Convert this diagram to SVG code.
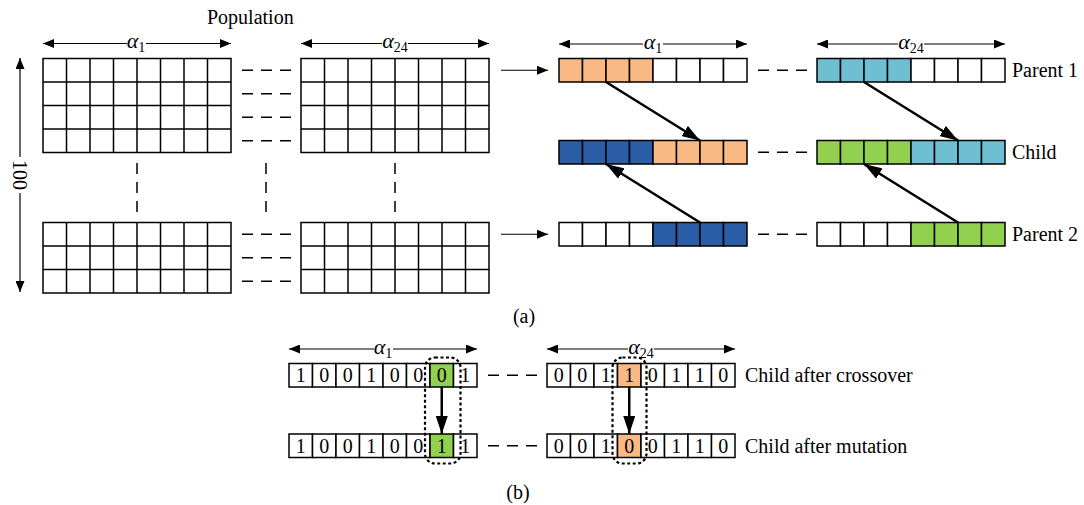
<svg xmlns="http://www.w3.org/2000/svg" width="1084" height="505" viewBox="0 0 1084 505" font-family="'Liberation Serif', 'DejaVu Serif', serif">
<defs>
<marker id="a" markerUnits="userSpaceOnUse" markerWidth="11" markerHeight="9" refX="11" refY="4.5" orient="auto"><path d="M0,0 L11,4.5 L0,9 z" fill="#000"/></marker>
<marker id="b" markerUnits="userSpaceOnUse" markerWidth="18" markerHeight="12" refX="18" refY="6" orient="auto"><path d="M0,0 L18,6 L0,12 z" fill="#000"/></marker>
<rect id="c" width="23.5" height="23.5"/>
</defs>
<style>
text{font-family:'Liberation Serif','DejaVu Serif',serif;fill:#000}
.t{font-size:20px}
.d{font-size:20px;text-anchor:middle}
.al{font-size:22px;font-style:italic;text-anchor:middle}
.sub{font-size:14px;font-style:normal}
.g{fill:#fff;stroke:#000;stroke-width:1.5}
.gl{fill:none;stroke:#000;stroke-width:1.5}
use{stroke:#000;stroke-width:1.5}
.w{fill:#fff}
.o{fill:#F8B984}
.bl{fill:#2B5DA6}
.lb{fill:#6EBFD2}
.gr{fill:#92D050}
.dash{stroke:#000;stroke-width:1.5;stroke-dasharray:11 8;fill:none}
.thin{stroke:#000;stroke-width:1.2;fill:none;marker-end:url(#a)}
.bold{stroke:#000;stroke-width:2.5;fill:none;marker-end:url(#b)}
.dot{fill:none;stroke:#000;stroke-width:2.2;stroke-dasharray:3 2.5}
</style>
<rect width="1084" height="505" fill="#fff"/>

<!-- Population -->
<text class="t" x="207" y="24">Population</text>
<g id="axis-100">
<line class="thin" x1="20" y1="157" x2="20" y2="58"/>
<line class="thin" x1="20" y1="193" x2="20" y2="292"/>
<text class="t" text-anchor="middle" transform="translate(13,175) rotate(90)">100</text>
</g>
<g id="pop-a1-top">
<rect class="g" x="43" y="58.5" width="188" height="94"/>
<path class="gl" d="M66.5,58.5V152.5M90,58.5V152.5M113.5,58.5V152.5M137,58.5V152.5M160.5,58.5V152.5M184,58.5V152.5M207.5,58.5V152.5M43,82H231M43,105.5H231M43,129H231"/>
</g>
<g id="pop-a24-top">
<rect class="g" x="301" y="58.5" width="188" height="94"/>
<path class="gl" d="M324.5,58.5V152.5M348,58.5V152.5M371.5,58.5V152.5M395,58.5V152.5M418.5,58.5V152.5M442,58.5V152.5M465.5,58.5V152.5M301,82H489M301,105.5H489M301,129H489"/>
</g>
<g id="pop-a1-bot">
<rect class="g" x="43" y="222.5" width="188" height="70.5"/>
<path class="gl" d="M66.5,222.5V293M90,222.5V293M113.5,222.5V293M137,222.5V293M160.5,222.5V293M184,222.5V293M207.5,222.5V293M43,246H231M43,269.5H231"/>
</g>
<g id="pop-a24-bot">
<rect class="g" x="301" y="222.5" width="188" height="70.5"/>
<path class="gl" d="M324.5,222.5V293M348,222.5V293M371.5,222.5V293M395,222.5V293M418.5,222.5V293M442,222.5V293M465.5,222.5V293M301,246H489M301,269.5H489"/>
</g>

<!-- alpha labels -->
<g id="alpha-labels">
<line class="thin" x1="127" y1="43.5" x2="43" y2="43.5"/><line class="thin" x1="146" y1="43.5" x2="231" y2="43.5"/>
<text class="al" x="136" y="48">α<tspan class="sub" dy="4">1</tspan></text>
<line class="thin" x1="382" y1="43.5" x2="301" y2="43.5"/><line class="thin" x1="408" y1="43.5" x2="489" y2="43.5"/>
<text class="al" x="395" y="48">α<tspan class="sub" dy="4">24</tspan></text>
<line class="thin" x1="643" y1="44" x2="559" y2="44"/><line class="thin" x1="663" y1="44" x2="747" y2="44"/>
<text class="al" x="653" y="48.5">α<tspan class="sub" dy="4">1</tspan></text>
<line class="thin" x1="898" y1="44" x2="817" y2="44"/><line class="thin" x1="924" y1="44" x2="1005" y2="44"/>
<text class="al" x="911" y="48.5">α<tspan class="sub" dy="4">24</tspan></text>
<line class="thin" x1="374" y1="349" x2="289" y2="349"/><line class="thin" x1="393" y1="349" x2="477" y2="349"/>
<text class="al" x="383" y="354">α<tspan class="sub" dy="4">1</tspan></text>
<line class="thin" x1="628" y1="349" x2="547" y2="349"/><line class="thin" x1="654" y1="349" x2="735" y2="349"/>
<text class="al" x="641" y="354">α<tspan class="sub" dy="4">24</tspan></text>
</g>

<!-- right strings -->
<g id="p1-a1">
<use href="#c" class="o" x="559" y="58.5"/><use href="#c" class="o" x="582.5" y="58.5"/><use href="#c" class="o" x="606" y="58.5"/><use href="#c" class="o" x="629.5" y="58.5"/>
<use href="#c" class="w" x="653" y="58.5"/><use href="#c" class="w" x="676.5" y="58.5"/><use href="#c" class="w" x="700" y="58.5"/><use href="#c" class="w" x="723.5" y="58.5"/>
</g>
<g id="child-a1">
<use href="#c" class="bl" x="559" y="140.5"/><use href="#c" class="bl" x="582.5" y="140.5"/><use href="#c" class="bl" x="606" y="140.5"/><use href="#c" class="bl" x="629.5" y="140.5"/>
<use href="#c" class="o" x="653" y="140.5"/><use href="#c" class="o" x="676.5" y="140.5"/><use href="#c" class="o" x="700" y="140.5"/><use href="#c" class="o" x="723.5" y="140.5"/>
</g>
<g id="p2-a1">
<use href="#c" class="w" x="559" y="222.5"/><use href="#c" class="w" x="582.5" y="222.5"/><use href="#c" class="w" x="606" y="222.5"/><use href="#c" class="w" x="629.5" y="222.5"/>
<use href="#c" class="bl" x="653" y="222.5"/><use href="#c" class="bl" x="676.5" y="222.5"/><use href="#c" class="bl" x="700" y="222.5"/><use href="#c" class="bl" x="723.5" y="222.5"/>
</g>
<g id="p1-a24">
<use href="#c" class="lb" x="817" y="58.5"/><use href="#c" class="lb" x="840.5" y="58.5"/><use href="#c" class="lb" x="864" y="58.5"/><use href="#c" class="lb" x="887.5" y="58.5"/>
<use href="#c" class="w" x="911" y="58.5"/><use href="#c" class="w" x="934.5" y="58.5"/><use href="#c" class="w" x="958" y="58.5"/><use href="#c" class="w" x="981.5" y="58.5"/>
<text class="t" x="1012" y="77">Parent 1</text>
</g>
<g id="child-a24">
<use href="#c" class="gr" x="817" y="140.5"/><use href="#c" class="gr" x="840.5" y="140.5"/><use href="#c" class="gr" x="864" y="140.5"/><use href="#c" class="gr" x="887.5" y="140.5"/>
<use href="#c" class="lb" x="911" y="140.5"/><use href="#c" class="lb" x="934.5" y="140.5"/><use href="#c" class="lb" x="958" y="140.5"/><use href="#c" class="lb" x="981.5" y="140.5"/>
<text class="t" x="1012" y="159">Child</text>
</g>
<g id="p2-a24">
<use href="#c" class="w" x="817" y="222.5"/><use href="#c" class="w" x="840.5" y="222.5"/><use href="#c" class="w" x="864" y="222.5"/><use href="#c" class="w" x="887.5" y="222.5"/>
<use href="#c" class="gr" x="911" y="222.5"/><use href="#c" class="gr" x="934.5" y="222.5"/><use href="#c" class="gr" x="958" y="222.5"/><use href="#c" class="gr" x="981.5" y="222.5"/>
<text class="t" x="1012" y="241">Parent 2</text>
</g>

<!-- (b) strings -->
<g id="b-cross-a1">
<use href="#c" class="w" x="289" y="363.5"/><use href="#c" class="w" x="312.5" y="363.5"/><use href="#c" class="w" x="336" y="363.5"/><use href="#c" class="w" x="359.5" y="363.5"/>
<use href="#c" class="w" x="383" y="363.5"/><use href="#c" class="w" x="406.5" y="363.5"/><use href="#c" class="gr" x="430" y="363.5"/><use href="#c" class="w" x="453.5" y="363.5"/>
<text class="d" y="382"><tspan x="300.75">1</tspan><tspan x="324.25">0</tspan><tspan x="347.75">0</tspan><tspan x="371.25">1</tspan><tspan x="394.75">0</tspan><tspan x="418.25">0</tspan><tspan x="441.75">0</tspan><tspan x="465.25">1</tspan></text>
</g>
<g id="b-mut-a1">
<use href="#c" class="w" x="289" y="434"/><use href="#c" class="w" x="312.5" y="434"/><use href="#c" class="w" x="336" y="434"/><use href="#c" class="w" x="359.5" y="434"/>
<use href="#c" class="w" x="383" y="434"/><use href="#c" class="w" x="406.5" y="434"/><use href="#c" class="gr" x="430" y="434"/><use href="#c" class="w" x="453.5" y="434"/>
<text class="d" y="452.5"><tspan x="300.75">1</tspan><tspan x="324.25">0</tspan><tspan x="347.75">0</tspan><tspan x="371.25">1</tspan><tspan x="394.75">0</tspan><tspan x="418.25">0</tspan><tspan x="441.75">1</tspan><tspan x="465.25">1</tspan></text>
</g>
<g id="b-cross-a24">
<use href="#c" class="w" x="547" y="363.5"/><use href="#c" class="w" x="570.5" y="363.5"/><use href="#c" class="w" x="594" y="363.5"/><use href="#c" class="o" x="617.5" y="363.5"/>
<use href="#c" class="w" x="641" y="363.5"/><use href="#c" class="w" x="664.5" y="363.5"/><use href="#c" class="w" x="688" y="363.5"/><use href="#c" class="w" x="711.5" y="363.5"/>
<text class="d" y="382"><tspan x="558.75">0</tspan><tspan x="582.25">0</tspan><tspan x="605.75">1</tspan><tspan x="629.25">1</tspan><tspan x="652.75">0</tspan><tspan x="676.25">1</tspan><tspan x="699.75">1</tspan><tspan x="723.25">0</tspan></text>
<text class="t" x="745" y="382">Child after crossover</text>
</g>
<g id="b-mut-a24">
<use href="#c" class="w" x="547" y="434"/><use href="#c" class="w" x="570.5" y="434"/><use href="#c" class="w" x="594" y="434"/><use href="#c" class="o" x="617.5" y="434"/>
<use href="#c" class="w" x="641" y="434"/><use href="#c" class="w" x="664.5" y="434"/><use href="#c" class="w" x="688" y="434"/><use href="#c" class="w" x="711.5" y="434"/>
<text class="d" y="452.5"><tspan x="558.75">0</tspan><tspan x="582.25">0</tspan><tspan x="605.75">1</tspan><tspan x="629.25">0</tspan><tspan x="652.75">0</tspan><tspan x="676.25">1</tspan><tspan x="699.75">1</tspan><tspan x="723.25">0</tspan></text>
<text class="t" x="745" y="452.5">Child after mutation</text>
</g>
<g id="mut-highlights">
<rect class="dot" x="425" y="357.5" width="35.5" height="106" rx="10"/>
<rect class="dot" x="612.5" y="357.5" width="34" height="106" rx="10"/>
</g>

<!-- connectors -->
<g id="connectors">
<path class="dash" d="M242,70.25H292M242,93.75H292M242,117.25H292M242,140.75H292M242,234.25H292M242,257.75H292M242,281.25H292"/>
<path class="dash" d="M137,163V212M266,163V212M395,163V212"/>
<line class="thin" x1="501" y1="70.25" x2="548" y2="70.25"/>
<line class="thin" x1="501" y1="234.25" x2="548" y2="234.25"/>
<path class="dash" d="M758,70.25H807M758,152.25H807M758,234.25H807"/>
<line class="bold" x1="606" y1="82" x2="700" y2="140.5"/>
<line class="bold" x1="700" y1="222.5" x2="606" y2="164"/>
<line class="bold" x1="864" y1="82" x2="958" y2="140.5"/>
<line class="bold" x1="958" y1="222.5" x2="864" y2="164"/>
<path class="dash" d="M488,375.25H538M488,445.75H538"/>
<line class="bold" x1="441.75" y1="387" x2="441.75" y2="434"/>
<line class="bold" x1="629.25" y1="387" x2="629.25" y2="434"/>
</g>

<text class="t" x="524" y="323" text-anchor="middle">(a)</text>
<text class="t" x="518" y="499" text-anchor="middle">(b)</text>
</svg>
